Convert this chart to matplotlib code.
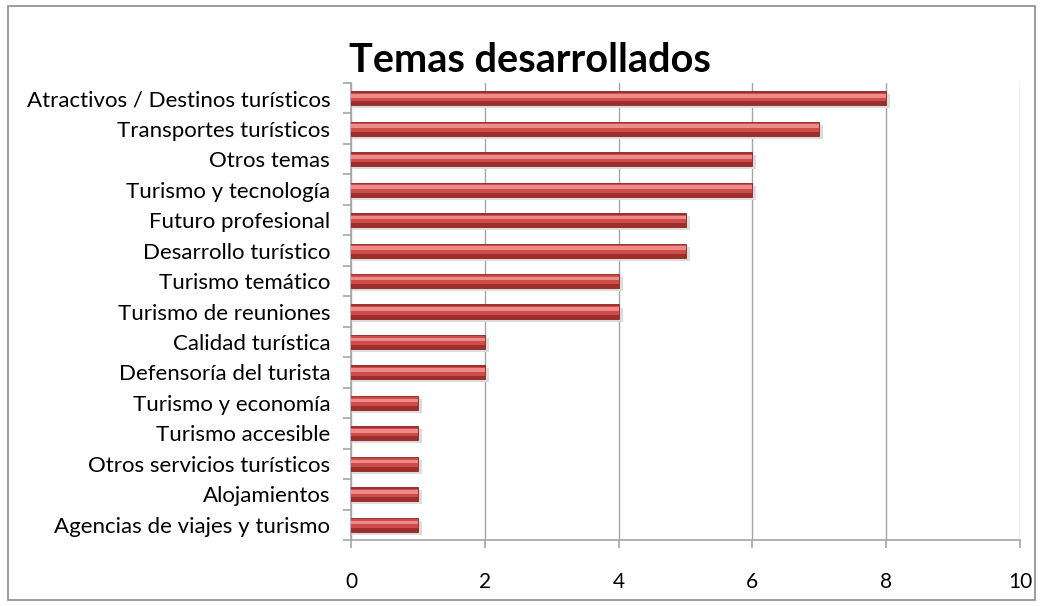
import matplotlib.pyplot as plt
from matplotlib.patches import Rectangle

categorias = [
    "Atractivos / Destinos turísticos",
    "Transportes turísticos",
    "Otros temas",
    "Turismo y tecnología",
    "Futuro profesional",
    "Desarrollo turístico",
    "Turismo temático",
    "Turismo de reuniones",
    "Calidad turística",
    "Defensoría del turista",
    "Turismo y economía",
    "Turismo accesible",
    "Otros servicios turísticos",
    "Alojamientos",
    "Agencias de viajes y turismo",
]
valores = [8, 7, 6, 6, 5, 5, 4, 4, 2, 2, 1, 1, 1, 1, 1]
xticks = [0, 2, 4, 6, 8, 10]

plt.rcParams['font.family'] = ['Lato', 'DejaVu Sans']

fig = plt.figure(figsize=(10.43, 6.06), dpi=100)
ax = fig.add_axes([351 / 1043, 1 - 540 / 606, (1020 - 351) / 1043, (540 - 83) / 606])

pos = list(range(len(categorias)))[::-1]
h = 0.46

# sombra
ax.barh([p - 0.1 for p in pos], [v + 0.06 for v in valores], height=h, left=0,
        color='#dcdcdc', zorder=2)
# cuerpo del cilindro
ax.barh(pos, valores, height=h, color='#9e2e2c', edgecolor='#8a2523', linewidth=0.6, zorder=3)
ax.barh([p + 0.04 for p in pos], valores, height=h * 0.62, color='#cc4d4a', zorder=4)
ax.barh([p + 0.08 for p in pos], valores, height=h * 0.26, color='#ee8a87', zorder=5)

ax.set_xlim(0, 10)
ax.set_ylim(-0.5, len(categorias) - 0.5)
ax.set_xticks(xticks)
ax.set_xticklabels([str(t) for t in xticks], fontsize=15)
ax.set_yticks(pos)
ax.set_yticklabels(categorias, fontsize=16)
ax.set_yticks([p - 0.5 for p in range(len(categorias) + 1)], minor=True)

ax.grid(axis='x', color='#a6a6a6', linewidth=1.0, zorder=0)
ax.set_axisbelow(True)
for s in ['top', 'right']:
    ax.spines[s].set_visible(False)
for s in ['left', 'bottom']:
    ax.spines[s].set_color('#a6a6a6')
    ax.spines[s].set_linewidth(1.2)

ax.tick_params(axis='y', which='major', length=0, pad=15)
ax.tick_params(axis='y', which='minor', length=6, color='#a6a6a6', width=1.2)
ax.tick_params(axis='x', length=6, color='#a6a6a6', width=1.2, pad=17)

fig.text(0.508, 0.90, "Temas desarrollados", fontsize=28.5, fontweight='bold',
         ha='center', va='center')

fig.patches.append(Rectangle((8 / 1043, 6 / 606), 1027 / 1043, 594 / 606,
                             transform=fig.transFigure, fill=False,
                             edgecolor='#8c8c8c', linewidth=1.2))

fig.savefig('out.png', dpi=100)
